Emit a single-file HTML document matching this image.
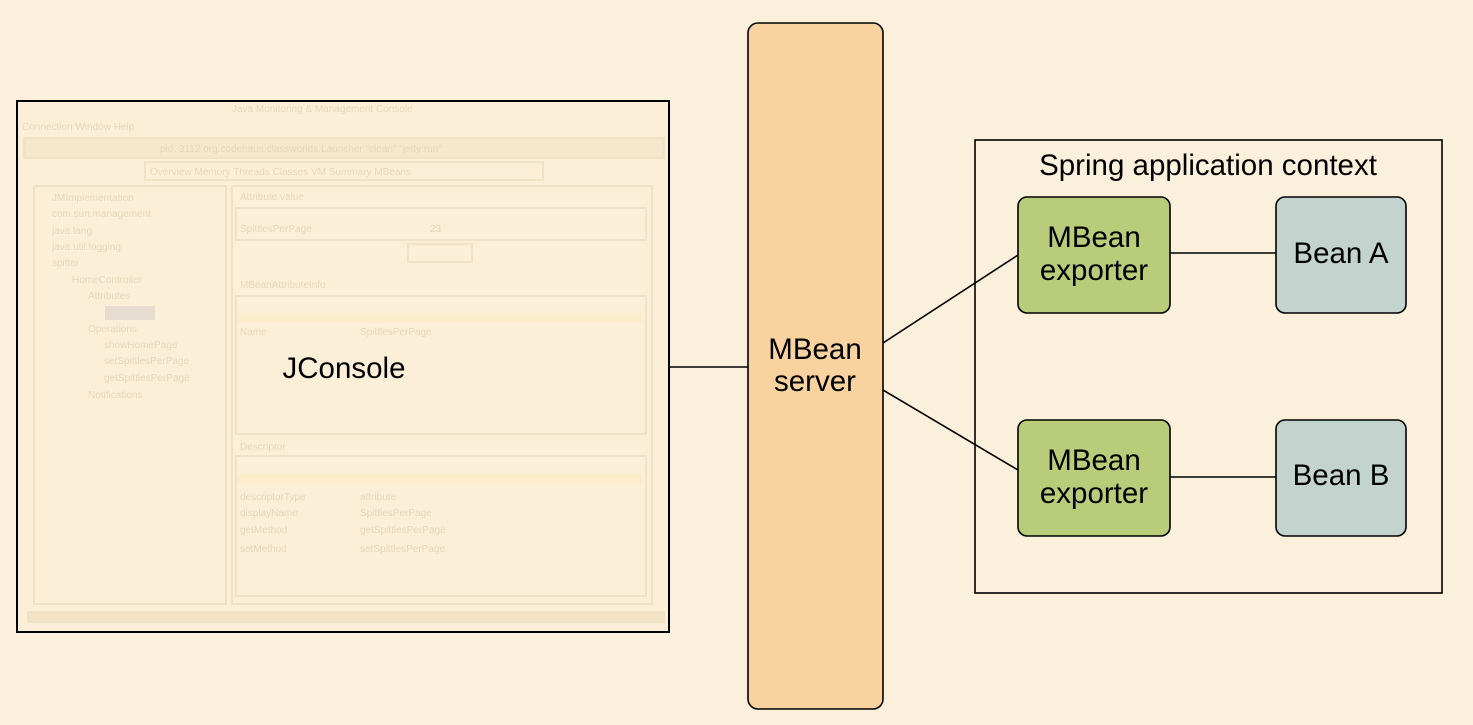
<!DOCTYPE html>
<html><head><meta charset="utf-8"><style>
body{margin:0;background:#fbf0dc;}
svg{display:block;font-family:"Liberation Sans",sans-serif;}
</style></head><body>
<svg width="1473" height="725" viewBox="0 0 1473 725">
<rect width="1473" height="725" fill="#fbf0dc"/>
<rect x="17" y="101" width="652" height="531" fill="#fbefd8" stroke="#000" stroke-width="2"/>
<g fill="none" stroke="#efe2c6" stroke-width="2">
<rect x="24" y="138" width="640" height="20" fill="#f6e8cc"/>
<rect x="34" y="186" width="192" height="418"/>
<rect x="232" y="186" width="420" height="418"/>
<rect x="236" y="208" width="410" height="32"/>
<rect x="236" y="296" width="410" height="138"/>
<rect x="236" y="456" width="410" height="140"/>
<rect x="408" y="244" width="64" height="18"/>
<rect x="145" y="162" width="398" height="18"/>
<rect x="28" y="612" width="636" height="10" fill="#f3e4c6"/>
</g>
<rect x="237" y="313" width="405" height="10" fill="#fbeccb"/>
<rect x="237" y="474" width="405" height="10" fill="#fbeccb"/>
<rect x="105" y="306" width="50" height="14" fill="#e6dcd0"/>
<g fill="#e6d7ba" font-size="10">
<text x="232" y="112">Java Monitoring &amp; Management Console</text>
<text x="22" y="130">Connection  Window  Help</text>
<text x="160" y="152">pid: 3112 org.codehaus.classworlds.Launcher "clean" "jetty:run"</text>
<text x="150" y="175">Overview  Memory  Threads  Classes  VM Summary  MBeans</text>
<text x="52" y="201">JMImplementation</text><text x="52" y="217">com.sun.management</text>
<text x="52" y="234">java.lang</text><text x="52" y="250">java.util.logging</text>
<text x="52" y="266">spitter</text><text x="72" y="283">HomeController</text>
<text x="88" y="299">Attributes</text><text x="88" y="332">Operations</text>
<text x="104" y="348">showHomePage</text><text x="104" y="364">setSpittlesPerPage</text>
<text x="104" y="381">getSpittlesPerPage</text><text x="88" y="398">Notifications</text>
<text x="240" y="200">Attribute value</text><text x="240" y="232">SpittlesPerPage</text><text x="430" y="232">23</text>
<text x="240" y="288">MBeanAttributeInfo</text><text x="240" y="450">Descriptor</text>
<text x="240" y="335">Name</text><text x="360" y="335">SpittlesPerPage</text>
<text x="240" y="500">descriptorType</text><text x="360" y="500">attribute</text>
<text x="240" y="516">displayName</text><text x="360" y="516">SpittlesPerPage</text>
<text x="240" y="533">getMethod</text><text x="360" y="533">getSpittlesPerPage</text>
<text x="240" y="552">setMethod</text><text x="360" y="552">setSpittlesPerPage</text>
</g>
<g font-size="29.5" text-anchor="middle" fill="#000">
<text x="344" y="378">JConsole</text>
</g>
<g stroke="#000" stroke-width="1.6">
<line x1="669" y1="367" x2="748" y2="367"/>
<line x1="883" y1="343" x2="1018" y2="255"/>
<line x1="883" y1="390" x2="1018" y2="470"/>
<line x1="1170" y1="253" x2="1276" y2="253"/>
<line x1="1170" y1="477" x2="1276" y2="477"/>
</g>
<rect x="748" y="23" width="135" height="686" rx="10" fill="#f8d3a0" stroke="#000" stroke-width="1.6"/>
<g font-size="29.5" text-anchor="middle" fill="#000">
<text x="815" y="359">MBean</text>
<text x="815" y="391">server</text>
</g>
<rect x="975" y="140" width="467" height="453" fill="none" stroke="#000" stroke-width="1.6"/>
<rect x="1018" y="197" width="152" height="116" rx="9" fill="#b8cc7a" stroke="#000" stroke-width="1.6"/>
<rect x="1276" y="197" width="130" height="116" rx="9" fill="#c3d3cd" stroke="#000" stroke-width="1.6"/>
<rect x="1018" y="420" width="152" height="116" rx="9" fill="#b8cc7a" stroke="#000" stroke-width="1.6"/>
<rect x="1276" y="420" width="130" height="116" rx="9" fill="#c3d3cd" stroke="#000" stroke-width="1.6"/>
<g font-size="29.5" text-anchor="middle" fill="#000">
<text x="1208" y="175">Spring application context</text>
<text x="1094" y="247">MBean</text>
<text x="1094" y="280">exporter</text>
<text x="1341" y="263">Bean A</text>
<text x="1094" y="470">MBean</text>
<text x="1094" y="503">exporter</text>
<text x="1341" y="485">Bean B</text>
</g>
</svg>
</body></html>
